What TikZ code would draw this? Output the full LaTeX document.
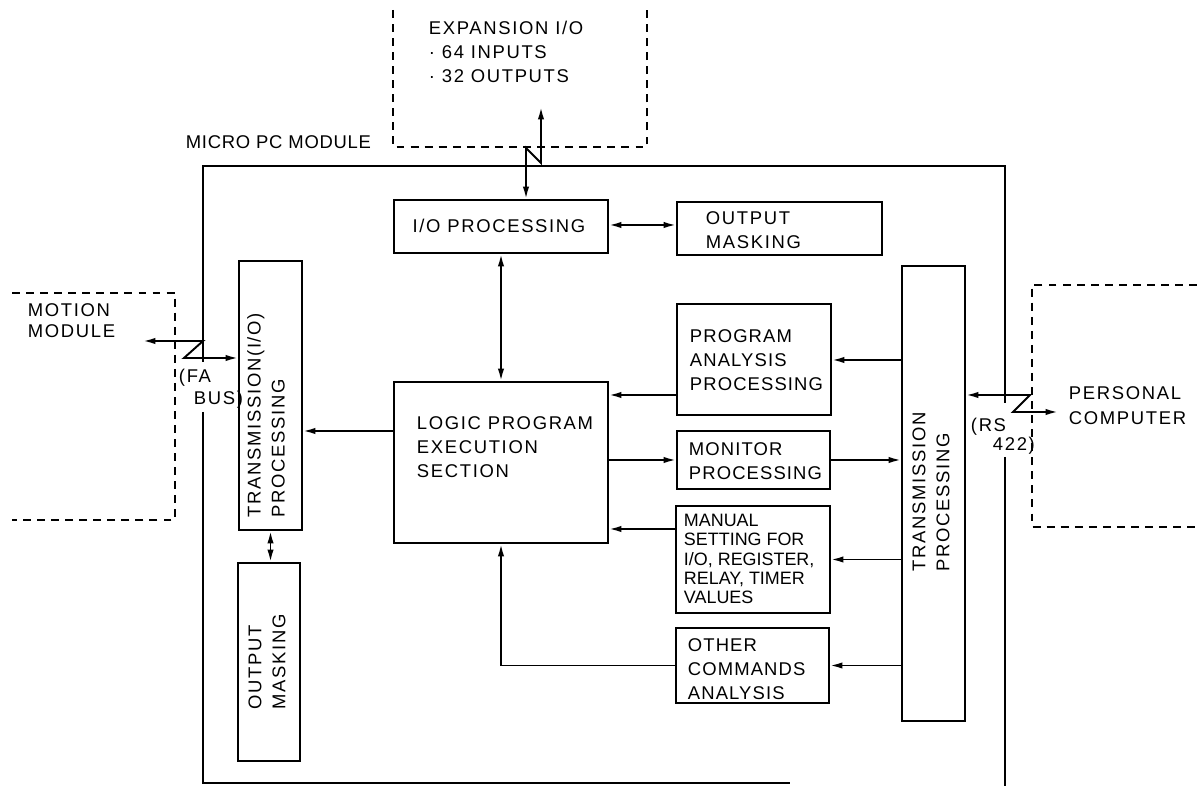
\documentclass[tikz,border=0pt]{standalone}
\usepackage{fontspec}
\setmainfont{Liberation Sans}[LetterSpace=9]
\newfontfamily\tightfont{Liberation Sans}
\newfontfamily\midfont{Liberation Sans}[LetterSpace=6]
\usetikzlibrary{arrows.meta,fit}
\begin{document}
\begin{tikzpicture}[x=0.02cm,y=-0.02cm,line width=1.1pt,
  txt/.style={font=\fontsize{10.5}{13.7}\selectfont, align=left, inner sep=0pt},
  mtxt/.style={txt, font=\midfont\fontsize{10.5}{13.7}\selectfont},
  bx/.style={draw, inner sep=0pt, txt},
  dbox/.style={line width=1pt, dash pattern=on 4.5pt off 3.5pt},
  arr/.style={-{Latex[length=7pt,width=3.6pt]}},
  dbl/.style={{Latex[length=7pt,width=3.6pt]}-{Latex[length=7pt,width=3.6pt]}}]
\useasboundingbox (0,0) rectangle (1197,786);

% outer module outline (broken where the buses cross)
\draw (203,362) -- (203,166) -- (1005,166) -- (1005,403);
\draw (203,412) -- (203,783) -- (790,783);
\draw (1005,457) -- (1005,786);
\node[txt, anchor=east] (mpc) at (372,142) {\addfontfeatures{LetterSpace=4}MICRO PC MODULE};

% external dashed units
\draw[dbox] (393,10) -- (393,147) -- (647,147) -- (647,10);
\node[txt, anchor=west] (exp) at (428,52) {EXPANSION I/O\\· 64 INPUTS\\· 32 OUTPUTS};
\draw[dbox] (12,293) -- (175,293) -- (175,520) -- (12,520);
\node[txt, anchor=west, font=\fontsize{10.5}{12}\selectfont] (mm) at (27,321) {MOTION\\MODULE};
\draw[dbox] (1197,285) -- (1032,285) -- (1032,527) -- (1197,527);
\node[txt, anchor=west, font=\fontsize{10.5}{14.2}\selectfont] (pc) at (1068,406) {PERSONAL\\COMPUTER};

% blocks
\node[bx, fit={(394,200) (608,253)}] (io) {};
\node[txt] (iot) at (499,226) {I/O PROCESSING};
\node[bx, fit={(677,202) (882,255)}] (om1) {};
\node[txt, anchor=west] (om1t) at (705,230) {OUTPUT\\MASKING};
\node[bx, fit={(239,261) (302,530)}] (tio) {};
\node[txt, rotate=90, anchor=west] (tiot) at (266,518) {TRANSMISSION(I/O)\\PROCESSING};
\node[bx, fit={(238,563) (300,761)}] (om2) {};
\node[txt, rotate=90, anchor=west] (om2t) at (267,710) {OUTPUT\\MASKING};
\node[bx, fit={(394,382) (608,543)}] (logic) {};
\node[txt, anchor=west] (logict) at (416,447) {LOGIC PROGRAM\\EXECUTION\\SECTION};
\node[bx, fit={(677,304) (831,415)}] (pa) {};
\node[mtxt, anchor=west] (pat) at (689,360) {PROGRAM\\ANALYSIS\\PROCESSING};
\node[bx, fit={(677,431) (830,489)}] (mon) {};
\node[mtxt, anchor=west] (mont) at (688,461) {MONITOR\\PROCESSING};
\node[bx, fit={(676,506) (830,613)}] (man) {};
\node[txt, anchor=west, font=\tightfont\fontsize{10.2}{10.9}\selectfont] (mant) at (683,559) {MANUAL\\SETTING FOR\\I/O, REGISTER,\\RELAY, TIMER\\VALUES};
\node[bx, fit={(676,628) (829,703)}] (oc) {};
\node[mtxt, anchor=west] (oct) at (687,669) {OTHER\\COMMANDS\\ANALYSIS};
\node[bx, fit={(902,266) (965,721)}] (tr) {};
\node[txt, rotate=90, anchor=west] (trt) at (931,572) {TRANSMISSION\\PROCESSING};

% bus labels
\node[txt, anchor=west] (fa1t) at (178,378) {(FA};
\node[txt, anchor=west] (fa2t) at (193,400) {BUS)};
\node[txt, anchor=west] (rs1t) at (970,427) {(RS};
\node[txt, anchor=west] (rs2t) at (992,446) {422)};

% helper coordinates
\coordinate (expT) at (541,107);
\coordinate (expZ1) at (541,163);
\coordinate (expZ2) at (526,148);
\coordinate (mmE) at (143,341);
\coordinate (fa1) at (203,341);
\coordinate (fa2) at (184,358);
\coordinate (rs1) at (1030,395);
\coordinate (rs2) at (1013,412);
\coordinate (pcW) at (1058,412);
\coordinate (yLT) at (0,431);
\coordinate (yPA) at (0,360);
\coordinate (yPL) at (0,395);
\coordinate (yML) at (0,529);
\coordinate (yIO) at (0,225);

% connectors
\draw[dbl] (expT) -- (expZ1) -- (expZ2) -- (io.north -| expZ2);
\draw[dbl] (io) -- (logic);
\draw[dbl] (io.east |- yIO) -- (om1.west |- yIO);
\draw[arr] (logic.west |- yLT) -- (tio.east |- yLT);
\draw[dbl] (tio.south) -- (tio.south |- om2.north);
\draw[dbl] (mmE) -- (fa1) -- (fa2) -- (tio.west |- fa2);
\draw[arr] (tr.west |- yPA) -- (pa.east |- yPA);
\draw[arr] (pa.west |- yPL) -- (logic.east |- yPL);
\draw[arr] (logic.east |- mon.west) -- (mon.west);
\draw[arr] (mon.east) -- (mon.east -| tr.west);
\draw[arr] (tr.west |- man.east) -- (man.east);
\draw[arr] (man.west |- yML) -- (logic.east |- yML);
\draw[arr] (tr.west |- oc.east) -- (oc.east);
\draw[arr] (oc.west) -- (oc.west -| logic.south) -- (logic.south);
\draw[dbl] (tr.east |- rs1) -- (rs1) -- (rs2) -- (pcW);
\end{tikzpicture}
\end{document}
